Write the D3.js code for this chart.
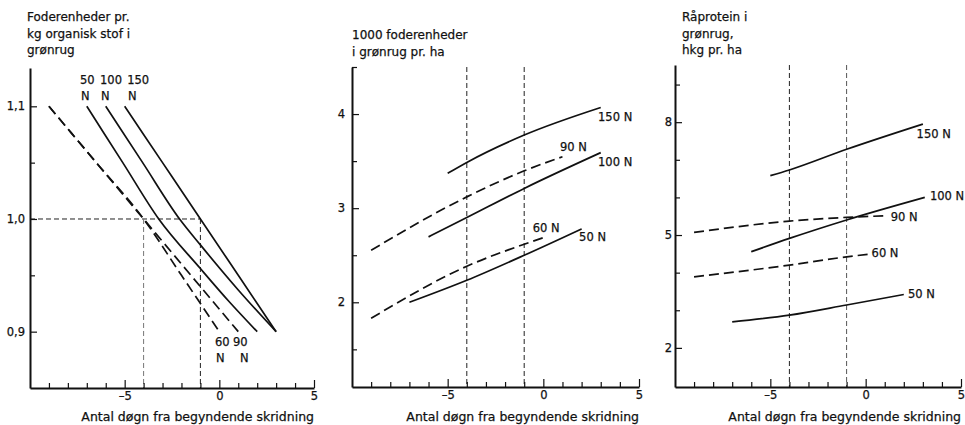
<!DOCTYPE html>
<html>
<head>
<meta charset="utf-8">
<script src="https://d3js.org/d3.v7.min.js"></script>
<title>Grønrug</title>
<style>
	body { margin: 0; background: #fff; }
	text { font-family: "DejaVu Sans", sans-serif; fill: #111; stroke: #111; stroke-width: 0.25px; }
</style>
</head>
<body>
<div id="chart"></div>
<script>
// x = antal døgn fra begyndende skridning, y = value
// panel 1: foderenheder pr. kg organisk stof
const fePerKg50N  = [[-7, 1.1], [-5.1, 1.05], [-3.2, 1.0], [-1, 0.956], [0.5, 0.927], [2, 0.9]];
const fePerKg100N = [[-6, 1.1], [-4.05, 1.05], [-2.1, 1.0], [-1, 0.977], [1, 0.937], [3, 0.9]];
const fePerKg150N = [[-5, 1.1], [-3, 1.05], [-1, 1.0], [1, 0.95], [3, 0.9]];
const fePerKg60N  = [[-9, 1.1], [-6.5, 1.05], [-4, 1.0], [-2, 0.95], [0, 0.9]];
const fePerKg90N  = [[-9, 1.1], [-6.5, 1.05], [-4, 1.0], [-1, 0.94], [1, 0.9]];

// panel 2: 1000 foderenheder pr. ha
const fePerHa50N  = [[-7, 2.0], [-4, 2.234], [-1, 2.5], [2, 2.78]];
const fePerHa100N = [[-6, 2.695], [-4, 2.9], [-1, 3.21], [3, 3.59]];
const fePerHa150N = [[-5, 3.37], [-4, 3.486], [-1, 3.777], [3, 4.07]];
const fePerHa60N  = [[-9, 1.83], [-4, 2.383], [-1, 2.617], [0.2, 2.7]];
const fePerHa90N  = [[-9, 2.553], [-4, 3.12], [-1, 3.397], [1, 3.546]];

// panel 3: råprotein, hkg pr. ha
const protein50N  = [[-7, 2.69], [-4, 2.87], [-1, 3.14], [2, 3.42]];
const protein100N = [[-6, 4.556], [-4, 4.91], [-1, 5.4], [3.1, 6.0]];
const protein150N = [[-5, 6.58], [-4, 6.73], [-1, 7.28], [3, 7.95]];
const protein60N  = [[-9, 3.89], [-4, 4.2], [-1, 4.42], [0.15, 4.49]];
const protein90N  = [[-9, 5.07], [-4, 5.37], [-1, 5.47], [1, 5.51]];

// axes
const xMajor = [-5, 0, 5];
const xMinor = [-9, -8, -7, -6, -4, -3, -2, -1, 1, 2, 3, 4];
const yMajor1 = [0.9, 1.0, 1.1], yMinor1 = [0.95, 1.05];
const yMajor2 = [2, 3, 4], yMinor2 = [1.5, 2.5, 3.5, 4.5];
const yMajor3 = [2, 5, 8], yMinor3 = [3, 4, 6, 7, 9];

// curve labels [text, x, y] in data units
const labels1 = [["50", -7.36, 1.1195], ["100", -6.3, 1.1195], ["150", -4.87, 1.1195],
                 ["N", -7.3, 1.1053], ["N", -6.25, 1.1053], ["N", -4.82, 1.1053],
                 ["60", -0.23, 0.8876], ["90", 0.72, 0.8876], ["N", -0.17, 0.8735], ["N", 1.09, 0.8735]];
const labels2 = [["150 N", 2.86, 3.926], ["90 N", 0.87, 3.606], ["100 N", 2.86, 3.447],
                 ["60 N", -0.55, 2.745], ["50 N", 1.87, 2.649]];
const labels3 = [["150 N", 2.67, 7.59], ["100 N", 3.37, 5.92], ["90 N", 1.31, 5.37],
                 ["60 N", 0.31, 4.41], ["50 N", 2.22, 3.33]];

const xTitle = "Antal døgn fra begyndende skridning";

const svg = d3.select("#chart").append("svg")
	.attr("width", 965).attr("height", 425);

const comma = d3.formatLocale({decimal: ",", thousands: ".", grouping: [3], currency: ["", ""]});

function panel(cfg) {
	const x = d3.scaleLinear().domain([-10, 5]).range(cfg.xr);
	const y = d3.scaleLinear().domain(cfg.yd).range(cfg.yr);
	const g = svg.append("g");

	// title
	const t = g.append("text").attr("x", cfg.tx).attr("font-size", 12);
	cfg.title.forEach((s, i) => {
		t.append("tspan").attr("x", cfg.tx).attr("y", cfg.ty + i * 16.5).text(s);
	});

	// reference lines
	cfg.refs.forEach(r => {
		g.append("line")
			.attr("x1", x(r[0])).attr("y1", y(r[1]))
			.attr("x2", x(r[2])).attr("y2", y(r[3]))
			.attr("stroke", r[4] || "#222").attr("stroke-width", 1)
			.attr("stroke-dasharray", "5,3");
	});

	// curves
	const line = d3.line().x(d => x(d[0])).y(d => y(d[1])).curve(d3.curveMonotoneX);
	cfg.series.forEach(s => {
		g.append("path").datum(s.data)
			.attr("d", line)
			.attr("fill", "none")
			.attr("stroke", "#111")
			.attr("stroke-width", 1.7)
			.attr("stroke-dasharray", s.dashed ? "10,5" : null);
	});

	// labels
	g.selectAll(".lab").data(cfg.labels).enter().append("text")
		.attr("x", d => x(d[1])).attr("y", d => y(d[2]))
		.attr("font-size", 11.5)
		.text(d => d[0]);

	// axes
	const fmt = cfg.dec ? (d => comma.format(".1f")(d)) : d3.format("d");
	const yAx = g.append("g").attr("transform", `translate(${cfg.xr[0]},0)`);
	yAx.call(d3.axisLeft(y).tickValues(cfg.yMajor).tickSize(-7).tickSizeOuter(0)
		.tickPadding(cfg.yPad).tickFormat(fmt));
	yAx.append("g").call(d3.axisLeft(y).tickValues(cfg.yMinor).tickSize(-5).tickSizeOuter(0).tickFormat(""))
		.select(".domain").remove();

	const xAx = g.append("g").attr("transform", `translate(0,${cfg.yr[0]})`);
	xAx.call(d3.axisBottom(x).tickValues(xMajor).tickSize(-8).tickSizeOuter(0)
		.tickPadding(4).tickFormat(d => d < 0 ? "\u2013" + Math.abs(d) : d));
	xAx.append("g").call(d3.axisBottom(x).tickValues(xMinor).tickSize(-5).tickSizeOuter(0).tickFormat(""))
		.select(".domain").remove();

	g.selectAll(".domain").attr("stroke", "#111").attr("stroke-width", 2);
	g.selectAll(".tick line").attr("stroke", "#111").attr("stroke-width", 1.2);
	g.selectAll(".tick text").attr("font-family", "DejaVu Sans, sans-serif")
		.attr("font-size", 11.5).attr("fill", "#111");

	g.append("text")
		.attr("x", cfg.xr[1]).attr("y", 421)
		.attr("text-anchor", "end")
		.attr("font-size", 12.5)
		.text(xTitle);
}

panel({
	xr: [30, 314], yd: [0.85, 1.134], yr: [388, 68],
	tx: 27, ty: 21, title: ["Foderenheder pr.", "kg organisk stof i", "grønrug"],
	yMajor: yMajor1, yMinor: yMinor1, yPad: 5, dec: true,
	refs: [[-10, 1.0, -1, 1.0], [-4, 1.0, -4, 0.85, "#777"], [-1, 1.0, -1, 0.85]],
	series: [
		{data: fePerKg50N}, {data: fePerKg100N}, {data: fePerKg150N},
		{data: fePerKg60N, dashed: true}, {data: fePerKg90N, dashed: true}
	],
	labels: labels1
});

panel({
	xr: [352, 639], yd: [1.1, 4.5], yr: [387, 67],
	tx: 352, ty: 39, title: ["1000 foderenheder", "i grønrug pr. ha"],
	yMajor: yMajor2, yMinor: yMinor2, yPad: 7, dec: false,
	refs: [[-4, 4.5, -4, 1.1], [-1, 4.5, -1, 1.1]],
	series: [
		{data: fePerHa50N}, {data: fePerHa100N}, {data: fePerHa150N},
		{data: fePerHa60N, dashed: true}, {data: fePerHa90N, dashed: true}
	],
	labels: labels2
});

panel({
	xr: [675, 961], yd: [0.96, 9.52], yr: [387, 65],
	tx: 682, ty: 21, title: ["Råprotein i", "grønrug,", "hkg pr. ha"],
	yMajor: yMajor3, yMinor: yMinor3, yPad: 3, dec: false,
	refs: [[-4, 9.52, -4, 0.96], [-1, 9.52, -1, 0.96, "#555"]],
	series: [
		{data: protein50N}, {data: protein100N}, {data: protein150N},
		{data: protein60N, dashed: true}, {data: protein90N, dashed: true}
	],
	labels: labels3
});
</script>
</body>
</html>
